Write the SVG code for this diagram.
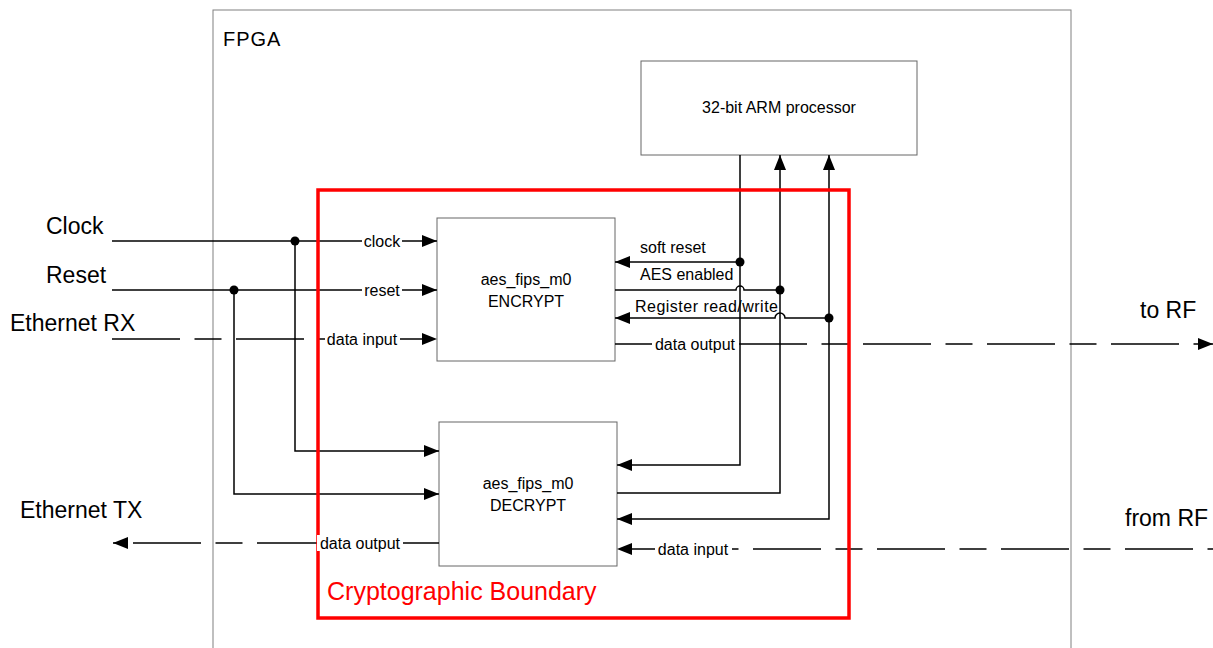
<svg xmlns="http://www.w3.org/2000/svg" width="1213" height="648" viewBox="0 0 1213 648">
<defs>
<style>
.box{fill:#fff;stroke:#666;stroke-width:1}
.ln{fill:none;stroke:#000;stroke-width:1.5}
.dash{stroke-dasharray:68 14.5 27 14.5}
.t{font-family:"Liberation Sans",Arial,sans-serif;fill:#000}
.s{font-size:16px}
.b{font-size:23px}
.bg{fill:#fff}
.dot{fill:#000}
</style>
<marker id="ah" viewBox="0 0 15 12" refX="15" refY="6" markerWidth="15" markerHeight="12" markerUnits="userSpaceOnUse" orient="auto-start-reverse">
<path d="M0,0 L15,6 L0,12 z" fill="#000"/>
</marker>
</defs>
<rect width="1213" height="648" fill="#fff"/>

<g id="fpga">
<rect x="213" y="10" width="858" height="660" fill="#fff" stroke="#808080" stroke-width="1"/>
<text class="t" x="223" y="46" font-size="20" letter-spacing="1">FPGA</text>
</g>

<g id="arm">
<rect class="box" x="641" y="61" width="276" height="94"/>
<text class="t s" x="779" y="113" text-anchor="middle">32-bit ARM processor</text>
</g>

<g id="encrypt">
<rect class="box" x="437" y="218" width="178" height="143"/>
<text class="t s" x="526" y="285" text-anchor="middle">aes_fips_m0</text>
<text class="t s" x="526" y="307" text-anchor="middle">ENCRYPT</text>
</g>

<g id="decrypt">
<rect class="box" x="439" y="422" width="178" height="144"/>
<text class="t s" x="528" y="489" text-anchor="middle">aes_fips_m0</text>
<text class="t s" x="528" y="511" text-anchor="middle">DECRYPT</text>
</g>

<g id="connectors">
<path class="ln" d="M112 241 H437" marker-end="url(#ah)"/>
<path class="ln" d="M295 241 V451 H439" marker-end="url(#ah)"/>
<path class="ln" d="M112 290 H437" marker-end="url(#ah)"/>
<path class="ln" d="M234 290 V494 H439" marker-end="url(#ah)"/>
<path class="ln dash" d="M112 339 H437" marker-end="url(#ah)"/>
<path class="ln dash" d="M615 344 H1213" marker-end="url(#ah)"/>
<path class="ln dash" d="M113 543 H439" stroke-dashoffset="-20" marker-start="url(#ah)"/>
<path class="ln dash" d="M1213 549 H617" stroke-dashoffset="104" marker-end="url(#ah)"/>
<path class="ln" d="M740 155 V465 H617" marker-end="url(#ah)"/>
<path class="ln" d="M740 262 H615" marker-end="url(#ah)"/>
<path class="ln" d="M617 493 H780 V155" marker-end="url(#ah)"/>
<path class="ln" d="M615 290 H736 A4 4 0 0 1 744 290 H780"/>
<path class="ln" d="M617 519 H829 V155" marker-start="url(#ah)" marker-end="url(#ah)"/>
<path class="ln" d="M829 318 H785 A5 5 0 0 0 775 318 H615" marker-end="url(#ah)"/>
<circle class="dot" cx="295" cy="241" r="4.5"/>
<circle class="dot" cx="234" cy="290" r="4.5"/>
<circle class="dot" cx="740" cy="262" r="4.5"/>
<circle class="dot" cx="780" cy="290" r="4.5"/>
<circle class="dot" cx="829" cy="318" r="4.5"/>
</g>

<g id="boundary">
<rect x="318" y="190" width="531" height="428" fill="none" stroke="#ff0000" stroke-width="3.5"/>
<text class="t" x="327" y="600" font-size="25" style="fill:#ff0000">Cryptographic Boundary</text>
</g>

<g id="labels">
<rect class="bg" x="362" y="233" width="40" height="16"/>
<text class="t s" x="382" y="247" text-anchor="middle">clock</text>
<rect class="bg" x="362" y="282" width="40" height="16"/>
<text class="t s" x="382" y="296" text-anchor="middle">reset</text>
<rect class="bg" x="325" y="331" width="75" height="16"/>
<text class="t s" x="362" y="345" text-anchor="middle">data input</text>
<rect class="bg" x="652" y="336" width="86" height="16"/>
<text class="t s" x="695" y="350" text-anchor="middle">data output</text>
<rect class="bg" x="317" y="535" width="86" height="16"/>
<text class="t s" x="360" y="549" text-anchor="middle">data output</text>
<rect class="bg" x="655" y="541" width="77" height="16"/>
<text class="t s" x="693" y="555" text-anchor="middle">data input</text>
<text class="t s" x="640" y="253">soft reset</text>
<text class="t s" x="640" y="280">AES enabled</text>
<text class="t s" x="635" y="312" textLength="143">Register read/write</text>
<text class="t b" x="46" y="234">Clock</text>
<text class="t b" x="46" y="283">Reset</text>
<text class="t b" x="10" y="331">Ethernet RX</text>
<text class="t b" x="20" y="518">Ethernet TX</text>
<text class="t b" x="1140" y="318">to RF</text>
<text class="t b" x="1125" y="526">from RF</text>
</g>
</svg>
